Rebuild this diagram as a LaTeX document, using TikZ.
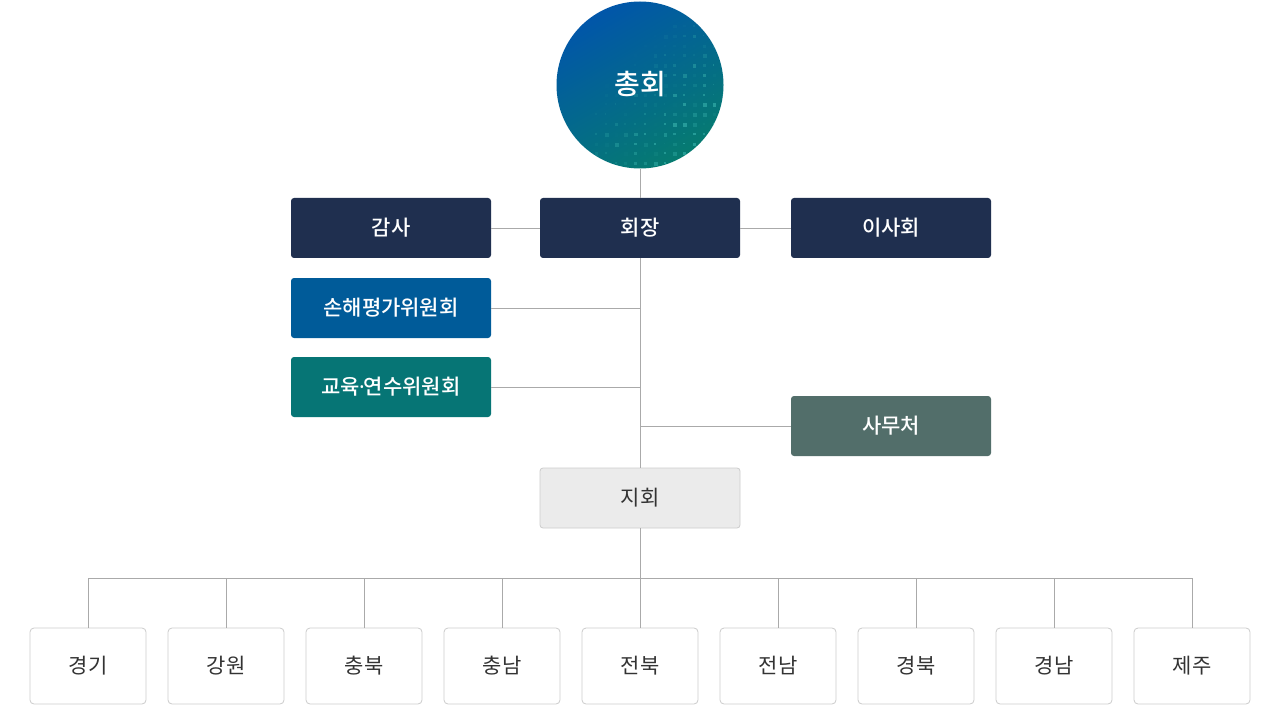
\documentclass[tikz,border=0pt]{standalone}
\usepackage{fontspec}
\setmainfont{Noto Sans CJK KR}
\newfontfamily\medfont{Noto Sans CJK KR Medium}
\newfontfamily\latinfont{Noto Sans}
\usetikzlibrary{shadings}
\definecolor{navy}{HTML}{1F2F4F}
\definecolor{cblue}{HTML}{005B99}
\definecolor{cteal}{HTML}{067575}
\definecolor{cslate}{HTML}{526E6A}
\definecolor{lgray}{HTML}{EBEBEB}
\definecolor{bgray}{HTML}{CCCCCC}
\definecolor{lcol}{HTML}{AAAAAA}
\definecolor{txt}{HTML}{333333}
\definecolor{gtop}{HTML}{0156A9}
\definecolor{gbot}{HTML}{067B70}
\definecolor{dotc}{HTML}{3BB5B0}
\begin{document}
\begin{tikzpicture}[x=1pt,y=-1pt,
  box/.style={rectangle,rounded corners=3pt,minimum width=200pt,minimum height=60pt,inner sep=0pt,text=white,font=\fontsize{21}{24}\medfont},
  dark/.style={box,fill=navy},
  sub/.style={rectangle,rounded corners=4pt,minimum width=116pt,minimum height=76pt,inner sep=0pt,draw=bgray,line width=0.8pt,fill=white,text=txt,font=\fontsize{21}{24}\selectfont},
  conn/.style={draw=lcol,line width=0.9pt}]
\useasboundingbox (0,0) rectangle (1280,714);
\fill[white] (0,0) rectangle (1280,714);
% circle
\node[circle,minimum size=167pt,inner sep=0pt,shading=axis,left color=gtop,right color=gbot,shading angle=30] (chonghoe) at (640,85) {};
\begin{scope}
\clip (640,85) circle (83.5);
\pgfmathsetseed{7}
\foreach \i in {0,...,14}{
  \foreach \j in {0,...,14}{
    \pgfmathsetmacro{\xx}{595+\i*9.8}
    \pgfmathsetmacro{\yy}{25+\j*9.8}
    \pgfmathsetmacro{\dd}{max(0,(\xx-600)/140+(\yy-40)/150-0.3)}
    \pgfmathsetmacro{\op}{min(0.6,rnd*\dd*0.9)}
    \pgfmathsetmacro{\sz}{1.5+2.5*rnd}
    \fill[dotc,opacity=\op] (\xx,\yy) rectangle ++(\sz,\sz);
  }
}
\end{scope}
\node[text=white,font=\fontsize{28}{32}\medfont] at (640,84) {총회};
% main boxes
\node[dark] (gamsa) at (391,228) {감사};
\node[dark] (hoejang) at (640,228) {회장};
\node[dark] (isa) at (891,228) {이사회};
\node[box,fill=cblue] (sonhae) at (391,308) {손해평가위원회};
\node[box,fill=cteal] (gyoyuk) at (391,387) {교육{\latinfont\fontsize{21}{24}\selectfont\kern-1pt·\kern-1pt}연수위원회};
\node[box,fill=cslate] (samu) at (891,426) {사무처};
\node[box,fill=lgray,draw=bgray,line width=0.8pt,text=txt,font=\fontsize{21}{24}\selectfont] (jihoe) at (640,498) {지회};
% connectors
\draw[conn] (chonghoe.south) -- (hoejang.north);
\draw[conn] (hoejang.south) -- (jihoe.north);
\draw[conn] (gamsa.east) -- (hoejang.west);
\draw[conn] (hoejang.east) -- (isa.west);
\draw[conn] (sonhae.east) -- (sonhae.east -| hoejang.south);
\draw[conn] (gyoyuk.east) -- (gyoyuk.east -| hoejang.south);
\draw[conn] (samu.west) -- (samu.west -| hoejang.south);
\coordinate (bus) at (640,578);
\draw[conn] (jihoe.south) -- (bus);
% bottom boxes
\foreach \n/\t [count=\k from 0] in {b1/경기,b2/강원,b3/충북,b4/충남,b5/전북,b6/전남,b7/경북,b8/경남,b9/제주}{
  \node[sub] (\n) at (88+\k*138,666) {\t};
  \draw[conn] (\n.north) -- (\n.north |- bus);
}
\draw[conn] (b1.north |- bus) -- (b9.north |- bus);
\end{tikzpicture}
\end{document}
